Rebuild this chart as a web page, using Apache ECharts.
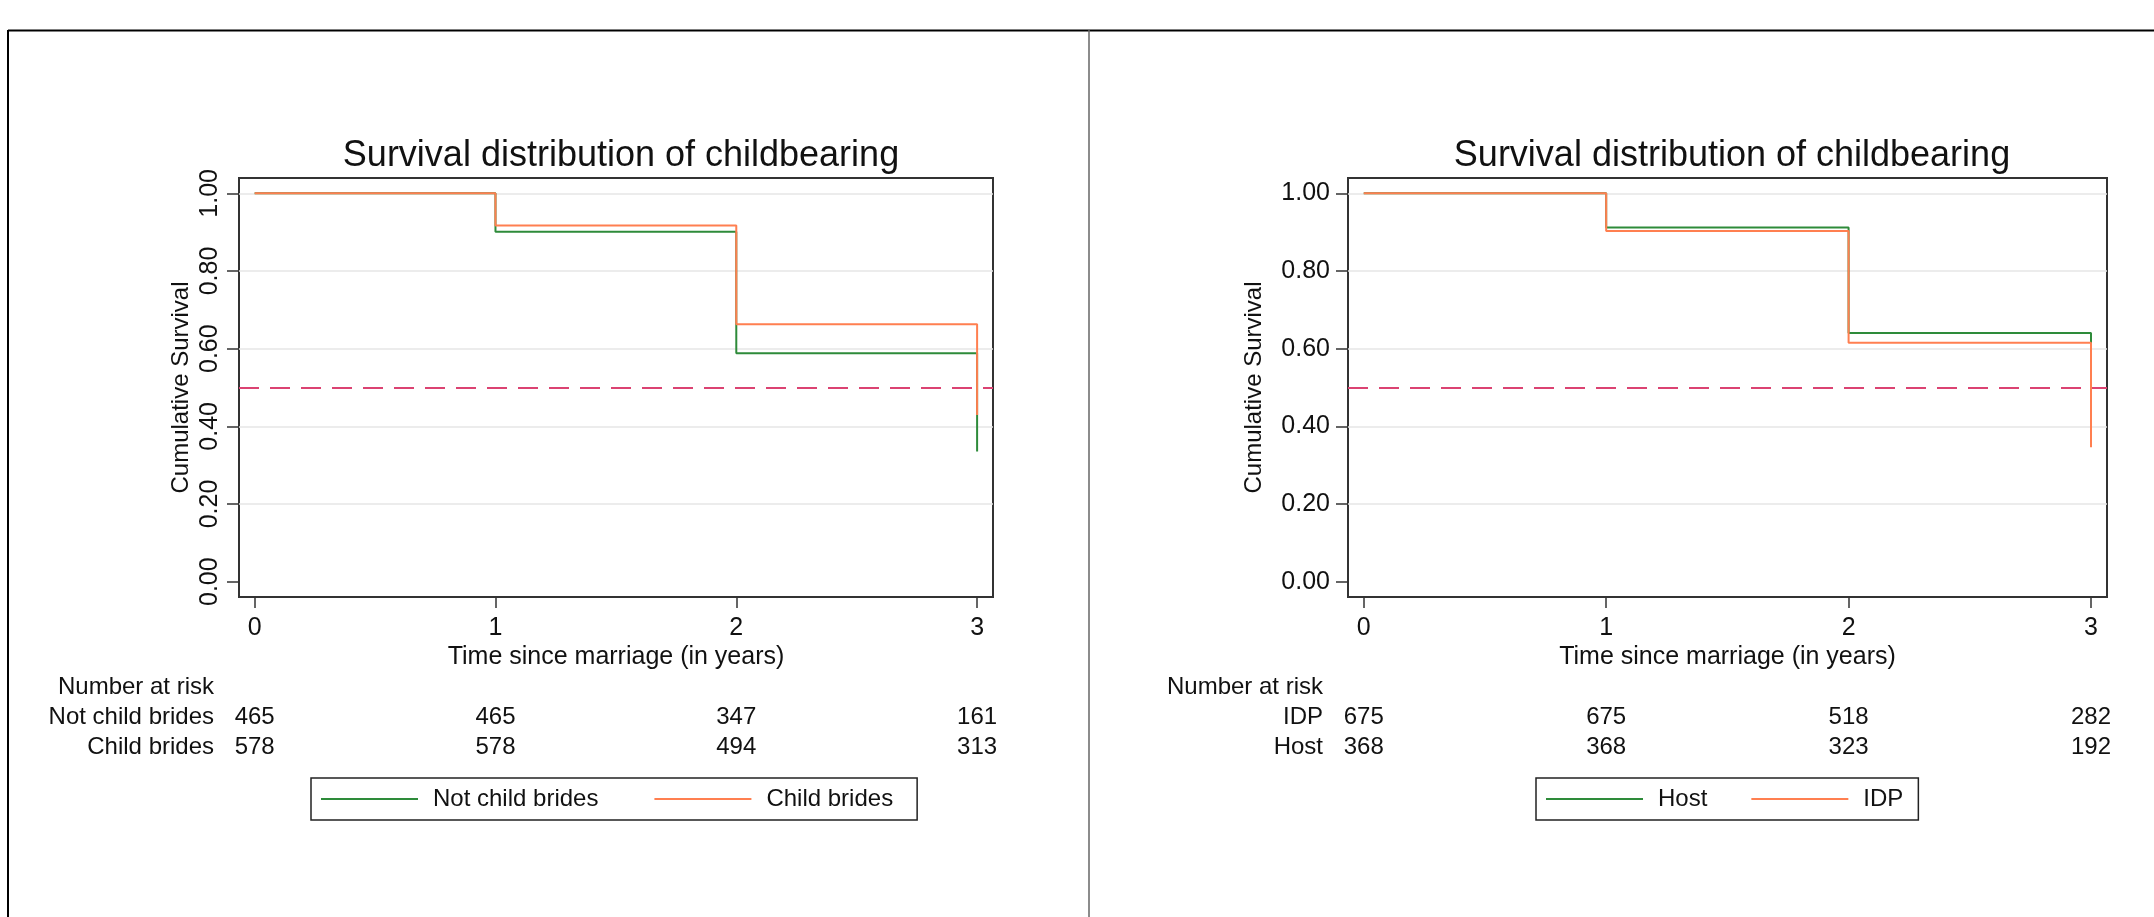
<!DOCTYPE html>
<html>
<head>
<meta charset="utf-8">
<script src="https://cdn.jsdelivr.net/npm/echarts@6/dist/echarts.min.js"></script>
<style>
  html, body { margin: 0; padding: 0; background: #fff; }
  #chart { width: 2154px; height: 917px; }
</style>
</head>
<body>
<div id="chart"></div>
<script>
// ---- Data ----
const timePoints = [0, 1, 2, 3];
const xTickValues = [0, 1, 2, 3];
const yTickValues = [0, 0.2, 0.4, 0.6, 0.8, 1.0];
const yGridValues = [0.2, 0.4, 0.6, 0.8, 1.0];
const medianLine = 0.5;

const titleText = 'Survival distribution of childbearing';
const xAxisTitle = 'Time since marriage (in years)';
const yAxisTitle = 'Cumulative Survival';
const riskHeader = 'Number at risk';

// Left panel
const leftNames = ['Not child brides', 'Child brides'];
const survNotChild = [1.000, 0.901, 0.588, 0.335];
const survChild = [1.000, 0.917, 0.663, 0.429];
const riskNotChild = [465, 465, 347, 161];
const riskChild = [578, 578, 494, 313];

// Right panel
const rightNames = ['Host', 'IDP'];
const survHost = [1.000, 0.912, 0.640, 0.425];
const survIDP = [1.000, 0.903, 0.615, 0.346];
const riskRowsRight = ['IDP', 'Host'];
const riskIDP = [675, 675, 518, 282];
const riskHost = [368, 368, 323, 192];

// ---- Styles ----
const FONT = '"Liberation Sans", Arial, Helvetica, sans-serif';
const GREEN = '#2e8b3a';
const ORANGE = '#ff7f50';
const DASH = '#db4372';
const AXIS = '#333';
const TXT = '#111';

const chart = echarts.init(document.getElementById('chart'), null, { renderer: 'canvas' });

const XMIN = -0.065, XMAX = 3.066, YMIN = -0.0394, YMAX = 1.0394;

function plotX(gridIndex) {
  return {
    type: 'value', gridIndex, min: XMIN, max: XMAX,
    name: xAxisTitle, nameLocation: 'middle', nameGap: 48,
    nameTextStyle: { fontFamily: FONT, fontSize: 25, color: TXT },
    axisLine: { show: true, onZero: false, lineStyle: { color: AXIS, width: 2 } },
    axisTick: { show: true, length: 11, customValues: xTickValues, lineStyle: { color: AXIS, width: 1.5 } },
    axisLabel: { customValues: xTickValues, fontFamily: FONT, fontSize: 25, color: TXT, margin: 19,
                 formatter: v => String(v) },
    splitLine: { show: false }
  };
}
function plotY(gridIndex, rotated) {
  return {
    type: 'value', gridIndex, min: YMIN, max: YMAX,
    name: yAxisTitle, nameLocation: 'middle', nameGap: rotated ? 46 : 82,
    nameTextStyle: { fontFamily: FONT, fontSize: 24, color: TXT },
    axisLine: { show: true, onZero: false, lineStyle: { color: AXIS, width: 2 } },
    axisTick: { show: true, length: 12, customValues: yTickValues, lineStyle: { color: AXIS, width: 1.5 } },
    axisLabel: { customValues: yTickValues, fontFamily: FONT, fontSize: 25, color: TXT,
                 rotate: rotated ? 90 : 0, margin: rotated ? 16 : 18,
                 formatter: v => v.toFixed(2) },
    splitLine: { show: false }
  };
}
function tableX(gridIndex) {
  return { type: 'value', gridIndex, min: XMIN, max: XMAX, show: false };
}
function tableY(gridIndex, rows) {
  return {
    type: 'category', gridIndex, inverse: true, data: [riskHeader].concat(rows),
    axisLine: { show: false }, axisTick: { show: false }, splitLine: { show: false },
    axisLabel: { interval: 0, hideOverlap: false, fontFamily: FONT, fontSize: 24, color: TXT, margin: 25, align: 'right' }
  };
}
function steps(values) { return timePoints.map((t, i) => [t, values[i]]); }
function survSeries(name, values, color, xi, yi) {
  return {
    name, type: 'line', step: 'end', xAxisIndex: xi, yAxisIndex: yi,
    data: steps(values), symbol: 'none', showSymbol: false, z: 5,
    lineStyle: { color, width: 2 }, itemStyle: { color }, animation: false
  };
}
function helperSeries(xi, yi) {
  return [{
    name: '_grid' + xi, type: 'line', xAxisIndex: xi, yAxisIndex: yi, data: [], z: 1, silent: true,
    markLine: { silent: true, symbol: 'none', label: { show: false }, animation: false,
      lineStyle: { color: '#e6e6e6', width: 1.5, type: 'solid' },
      data: yGridValues.map(v => ({ yAxis: v })) }
  }, {
    name: '_ref' + xi, type: 'line', xAxisIndex: xi, yAxisIndex: yi, data: [], z: 4, silent: true,
    markLine: { silent: true, symbol: 'none', label: { show: false }, animation: false,
      lineStyle: { color: DASH, width: 2, type: [20, 11] },
      data: [{ yAxis: medianLine }] }
  }];
}
function riskSeries(xi, yi, rowName, values) {
  return {
    type: 'scatter', xAxisIndex: xi, yAxisIndex: yi, symbol: 'circle', symbolSize: 0, silent: true,
    itemStyle: { color: '#ffffff', opacity: 1 },
    data: timePoints.map((t, i) => [t, rowName, values[i]]),
    label: { show: true, position: 'inside', formatter: p => String(p.value[2]),
             fontFamily: FONT, fontSize: 24, color: TXT, textBorderWidth: 0, opacity: 1 },
    emphasis: { disabled: true },
    animation: false
  };
}
function legendFor(names, left, gap, padRight) {
  return {
    data: names.map(n => ({ name: n, icon: 'rect' })), left, top: 778, orient: 'horizontal', selectedMode: false,
    itemWidth: 97, itemHeight: 2, itemGap: gap,
    padding: [9, padRight, 9, 10],
    borderColor: '#222', borderWidth: 1.5, backgroundColor: '#fff',
    textStyle: { fontFamily: FONT, fontSize: 24, color: TXT, padding: [0, 0, 0, 10], lineHeight: 24 }
  };
}

const option = {
  backgroundColor: '#fff',
  animation: false,
  title: [
    { text: titleText, left: 616, top: 133, textAlign: 'center',
      textStyle: { fontFamily: FONT, fontSize: 36, fontWeight: 'normal', color: TXT } },
    { text: titleText, left: 1727, top: 133, textAlign: 'center',
      textStyle: { fontFamily: FONT, fontSize: 36, fontWeight: 'normal', color: TXT } }
  ],
  grid: [
    { left: 239, top: 178, width: 754, height: 419, show: true, borderColor: AXIS, borderWidth: 2, backgroundColor: '#fff' },
    { left: 1348, top: 178, width: 759, height: 419, show: true, borderColor: AXIS, borderWidth: 2, backgroundColor: '#fff' },
    { left: 239, top: 673, width: 754, height: 89 },
    { left: 1348, top: 673, width: 759, height: 89 }
  ],
  xAxis: [plotX(0), plotX(1), tableX(2), tableX(3)],
  yAxis: [plotY(0, true), plotY(1, false), tableY(2, leftNames), tableY(3, riskRowsRight)],
  legend: [
    legendFor(leftNames, 311, 56, 24),
    legendFor(rightNames, 1536, 44, 15)
  ],
  graphic: [
    { type: 'line', shape: { x1: 8, y1: 30.5, x2: 2154, y2: 30.5 }, style: { stroke: '#000', lineWidth: 2 } },
    { type: 'line', shape: { x1: 8, y1: 30, x2: 8, y2: 917 }, style: { stroke: '#000', lineWidth: 2 } },
    { type: 'line', shape: { x1: 1089, y1: 30, x2: 1089, y2: 917 }, style: { stroke: '#666', lineWidth: 1.5 } }
  ],
  series: [
    ...helperSeries(0, 0),
    survSeries(leftNames[0], survNotChild, GREEN, 0, 0),
    survSeries(leftNames[1], survChild, ORANGE, 0, 0),
    ...helperSeries(1, 1),
    survSeries(rightNames[0], survHost, GREEN, 1, 1),
    survSeries(rightNames[1], survIDP, ORANGE, 1, 1),
    riskSeries(2, 2, leftNames[0], riskNotChild),
    riskSeries(2, 2, leftNames[1], riskChild),
    riskSeries(3, 3, riskRowsRight[0], riskIDP),
    riskSeries(3, 3, riskRowsRight[1], riskHost)
  ]
};
chart.setOption(option);
</script>
</body>
</html>
